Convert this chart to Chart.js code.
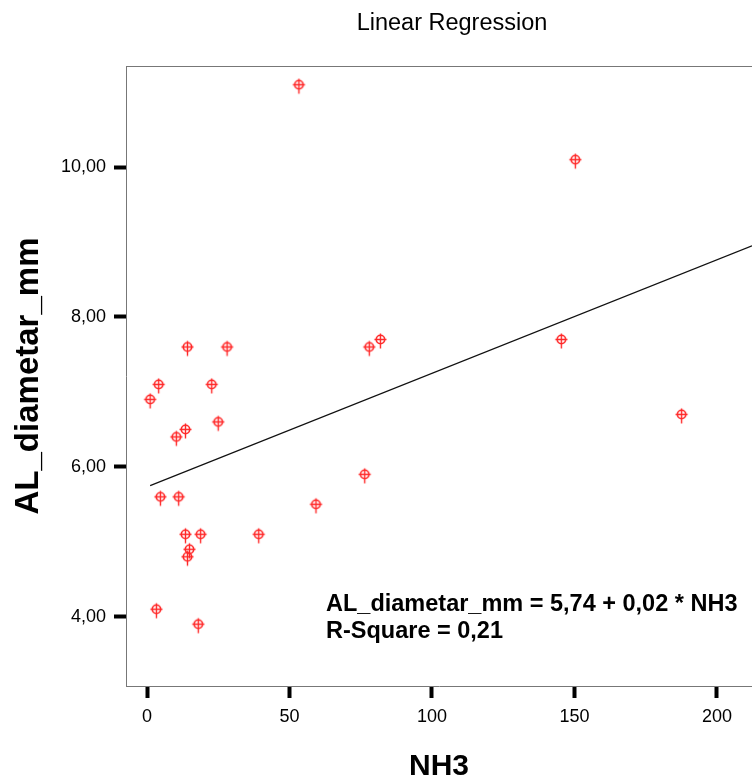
<!DOCTYPE html>
<html>
<head>
<meta charset="utf-8">
<script src="https://cdn.jsdelivr.net/npm/chart.js@4/dist/chart.umd.min.js"></script>
<style>
  html, body { margin: 0; padding: 0; background: #fff; }
  #wrap { width: 752px; height: 780px; }
</style>
</head>
<body>
<div id="wrap"><canvas id="c" width="752" height="780"></canvas></div>
<script>
// ---- Data ----
const nh3 = [53.3, 150.3, 145.4, 187.6, 81.9, 78.0, 14.2, 28.1, 4.1, 22.7, 1.1, 25.0, 13.5, 10.3, 76.4, 4.7, 11.1, 59.3, 13.5, 18.8, 39.2, 14.9, 14.2, 3.3, 18.0];
const alDiameter = [11.1, 10.1, 7.7, 6.7, 7.7, 7.6, 7.6, 7.6, 7.1, 7.1, 6.9, 6.6, 6.5, 6.4, 5.9, 5.6, 5.6, 5.5, 5.1, 5.1, 5.1, 4.9, 4.8, 4.1, 3.9];
const fitLineX = [1.1, 212.3];
const fitLineY = [5.75, 8.95];
const xTicks = [0, 50, 100, 150, 200];
const yTicks = [4, 6, 8, 10];
const xRange = [-7.37, 212.3];
const yRange = [3.075, 11.35];
const chartTitle = 'Linear Regression';
const xTitle = 'NH3';
const yTitle = 'AL_diametar_mm';
const equationLines = ['AL_diametar_mm = 5,74 + 0,02 * NH3', 'R-Square = 0,21'];

const FONT = '"Liberation Sans", Arial, Helvetica, sans-serif';

function makeMarker() {
  const c = document.createElement('canvas');
  c.width = 15; c.height = 21;
  const g = c.getContext('2d');
  g.strokeStyle = 'rgb(255,40,40)';
  g.lineWidth = 1.6;
  g.beginPath(); g.arc(7.5, 10.5, 4.2, 0, Math.PI * 2); g.stroke();
  g.lineWidth = 1.4;
  g.beginPath();
  g.moveTo(1.5, 10.5); g.lineTo(13.5, 10.5);
  g.moveTo(7.5, 4.5); g.lineTo(7.5, 19.5);
  g.stroke();
  return c;
}

const points = nh3.map((x, i) => ({ x: x, y: alDiameter[i] }));
const fitPoints = fitLineX.map((x, i) => ({ x: x, y: fitLineY[i] }));

const annotPlugin = {
  id: 'annot',
  afterDraw(chart) {
    const { ctx, chartArea: a } = chart;
    ctx.save();
    ctx.strokeStyle = '#777';
    ctx.lineWidth = 1;
    ctx.beginPath();
    ctx.moveTo(a.left, a.top + 0.5);
    ctx.lineTo(a.right, a.top + 0.5);
    ctx.stroke();
    ctx.fillStyle = '#000';
    ctx.textBaseline = 'middle';
    ctx.textAlign = 'center';
    ctx.font = '23.5px ' + FONT;
    ctx.fillText(chartTitle, 452, 24);
    ctx.textAlign = 'left';
    ctx.font = 'bold 23.5px ' + FONT;
    ctx.fillText(equationLines[0], a.left + 200, 605);
    ctx.fillText(equationLines[1], a.left + 200, 632);
    ctx.restore();
  }
};

new Chart(document.getElementById('c'), {
  type: 'scatter',
  data: {
    datasets: [
      {
        type: 'line',
        data: fitPoints,
        borderColor: '#111',
        borderWidth: 1.2,
        pointRadius: 0,
        fill: false,
        tension: 0
      },
      {
        type: 'scatter',
        data: points,
        pointStyle: makeMarker(),
        pointRadius: 5
      }
    ]
  },
  options: {
    responsive: false,
    animation: false,
    devicePixelRatio: 1,
    layout: { autoPadding: false, padding: { top: 66, left: 0, right: 0, bottom: 0 } },
    plugins: {
      legend: { display: false },
      title: { display: false },
      tooltip: { enabled: false }
    },
    scales: {
      x: {
        type: 'linear',
        min: xRange[0],
        max: xRange[1],
        afterBuildTicks: s => { s.ticks = xTicks.map(v => ({ value: v })); },
        afterFit: s => { s.height = 94; s.paddingRight = 0; s.paddingLeft = 0; },
        grid: { drawOnChartArea: false, drawTicks: true, tickLength: 12, tickWidth: 4, tickColor: '#000' },
        border: { display: true, color: '#777', width: 1 },
        ticks: { font: { family: FONT, size: 18 }, color: '#000', padding: 8, maxRotation: 0, callback: v => String(v) },
        title: { display: true, text: xTitle, color: '#000', font: { family: FONT, size: 30, weight: 'bold', lineHeight: 0.9 }, padding: { top: 0, bottom: 0 } }
      },
      y: {
        type: 'linear',
        min: yRange[0],
        max: yRange[1],
        afterBuildTicks: s => { s.ticks = yTicks.map(v => ({ value: v })); },
        afterFit: s => { s.width = 126; },
        grid: { drawOnChartArea: false, drawTicks: true, tickLength: 12, tickWidth: 4, tickColor: '#000' },
        border: { display: true, color: '#777', width: 1 },
        ticks: { font: { family: FONT, size: 18 }, color: '#000', padding: 8, callback: v => v.toFixed(2).replace('.', ',') },
        title: { display: true, text: yTitle, color: '#000', font: { family: FONT, size: 33, weight: 'bold', lineHeight: 1 }, padding: { top: 12, bottom: 0 } }
      }
    }
  },
  plugins: [annotPlugin]
});
</script>
</body>
</html>
